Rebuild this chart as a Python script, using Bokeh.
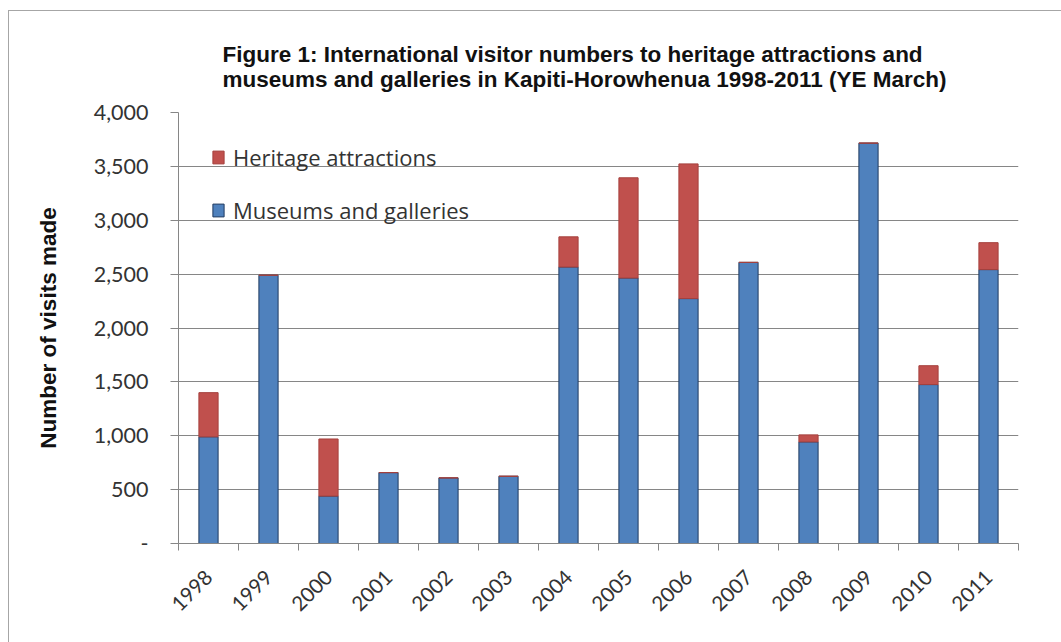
import math
from bokeh.plotting import figure
from bokeh.models import (FactorRange, Range1d, LinearAxis, CategoricalAxis, FixedTicker,
                          NumeralTickFormatter, Title, Legend, LegendItem, ColumnDataSource,
                          CustomLabelingPolicy)
from bokeh.embed import file_html
from bokeh.resources import INLINE

years = ["1998", "1999", "2000", "2001", "2002", "2003", "2004",
         "2005", "2006", "2007", "2008", "2009", "2010", "2011"]
museums = [990, 2490, 440, 658, 609, 624, 2566, 2464, 2273, 2609, 943, 3716, 1475, 2542]
heritage = [410, 0, 530, 0, 0, 0, 280, 930, 1250, 0, 65, 0, 175, 250]
y_ticks = [0, 500, 1000, 1500, 2000, 2500, 3000, 3500, 4000]

source = ColumnDataSource(dict(year=years, museums=museums, heritage=heritage))

GRID = "#868686"
BLUE = "#4F81BD"
RED = "#C0504D"
TXT = "#333333"

p = figure(width=1053, height=632, x_range=FactorRange(*years), y_range=Range1d(0, 4000),
           x_axis_location=None, output_backend="svg", toolbar_location=None,
           min_border_left=169, min_border_right=44, min_border_top=101, min_border_bottom=100)
p.styles = {"margin-left": "8px", "margin-top": "10px",
            "border-left": "1px solid #a6a6a6", "border-top": "1px solid #a6a6a6"}
p.outline_line_color = None
p.background_fill_color = "white"
p.border_fill_color = "white"

rs = p.vbar_stack(["museums", "heritage"], x="year", width=0.32, source=source,
                  fill_color=[BLUE, RED], line_color=["#1f3a60", "#a5403d"], line_width=1)

# grid
p.xgrid.grid_line_color = None
p.ygrid.ticker = FixedTicker(ticks=y_ticks)
p.ygrid.grid_line_color = GRID
p.ygrid.grid_line_width = 1

# y axis
ya = p.yaxis[0]
ya.ticker = FixedTicker(ticks=y_ticks)
ya.formatter = NumeralTickFormatter(format="0,0")
ya.major_label_overrides = {0: "-"}
ya.axis_line_color = GRID
ya.major_tick_line_color = GRID
ya.major_tick_in = 0
ya.major_tick_out = 8
ya.minor_tick_line_color = None
ya.major_label_text_font = "Lato"
ya.major_label_text_font_size = "21.5px"
ya.major_label_text_color = TXT
ya.major_label_standoff = 22
ya.axis_label = "Number of visits made"
ya.axis_label_text_font = "Liberation Sans"
ya.axis_label_text_font_style = "bold"
ya.axis_label_text_font_size = "22.5px"
ya.axis_label_text_color = "#111111"
ya.axis_label_standoff = 30

# x axes: tick marks between categories (synthetic coordinates) + category labels
edge_ticks = list(range(len(years) + 1))
edge_axis = LinearAxis(ticker=FixedTicker(ticks=edge_ticks),
                       major_label_overrides={t: "" for t in edge_ticks},
                       major_label_policy=CustomLabelingPolicy(
                           code="try { for (const i of Array.from(indices)) indices.unset(i) } catch (e) {} return indices"),
                       major_label_standoff=0,
                       axis_line_color=GRID, major_tick_line_color=GRID,
                       major_tick_in=0, major_tick_out=7, minor_tick_line_color=None)
p.add_layout(edge_axis, "below")
cat_axis = CategoricalAxis(axis_line_color=None, major_tick_line_color=None,
                           major_label_orientation=math.pi / 4,
                           major_label_text_font="Lato", major_label_text_font_size="20.5px",
                           major_label_text_color=TXT, major_label_standoff=17)
p.add_layout(cat_axis, "below")

# title (two lines)
p.add_layout(Title(text="Figure 1: International visitor numbers to heritage attractions and\n"
                        "museums and galleries in Kapiti-Horowhenua 1998-2011 (YE March)",
                   align="left", offset=44, text_font="Liberation Sans", text_font_style="bold",
                   text_font_size="22.5px", text_color="#111111", text_line_height=1.0,
                   standoff=41), "above")

legend = Legend(items=[LegendItem(label="Heritage attractions", renderers=[rs[1]]),
                       LegendItem(label="Museums and galleries", renderers=[rs[0]])],
                location=(33, 318), padding=0, margin=0, spacing=23,
                glyph_width=14, glyph_height=16, label_standoff=8, label_height=30,
                label_text_font="Open Sans", label_text_font_size="22px",
                label_text_color=TXT, border_line_color=None,
                background_fill_alpha=0)
p.add_layout(legend)

open("out.html", "w").write(file_html(p, INLINE))
